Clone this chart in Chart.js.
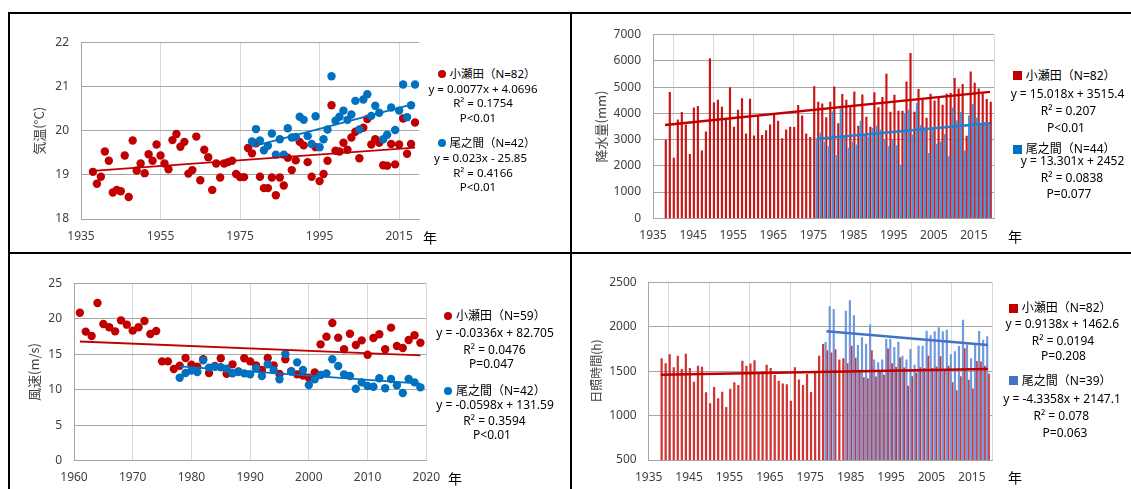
<!DOCTYPE html>
<html>
<head>
<meta charset="utf-8">
<script src="https://cdn.jsdelivr.net/npm/chart.js@4.4.1/dist/chart.umd.min.js"></script>
<style>
  body { margin: 0; background: #fff; }
  #page { position: relative; width: 1131px; height: 489px; overflow: hidden; background: #fff;
          font-family: "Noto Sans", "Noto Sans CJK JP", sans-serif; }
  canvas { position: absolute; }
  .rule { position: absolute; background: #000; z-index: 5; }
  .lg { position: absolute; white-space: nowrap; color: #000; line-height: 14px; font-size: 12px; z-index: 4; }
  .c { width: 180px; text-align: center; }
  .hd { display: flex; align-items: center; }
  .mk { display: inline-block; width: 8px; height: 8px; margin-right: 4px; }
  .dot { border-radius: 50%; }
  .sq { width: 9px; height: 9px; }
  .unit { position: absolute; font-family: "Noto Sans CJK JP"; font-size: 14px; line-height: 16px; color: #000; z-index: 4; }
</style>
</head>
<body>
<div id="page">
  <!-- panel frames -->
  <div class="rule" style="left:7.5px;top:12px;width:2px;height:477px"></div>
  <div class="rule" style="left:7.5px;top:12px;width:1124px;height:2px"></div>
  <div class="rule" style="left:570px;top:12px;width:2px;height:477px"></div>
  <div class="rule" style="left:7.5px;top:252px;width:1124px;height:2px"></div>

  <canvas id="tempChart" width="430" height="236" style="left:0;top:14px"></canvas>
  <canvas id="precipChart" width="430" height="236" style="left:572px;top:14px"></canvas>
  <canvas id="windChart" width="450" height="235" style="left:0;top:254px"></canvas>
  <canvas id="sunChart" width="430" height="235" style="left:572px;top:254px"></canvas>

  <!-- temperature legend -->
  <div class="lg hd" style="left:437.5px;top:67px;font-size:11.5px"><span class="mk dot" style="background:#c00000"></span>小瀬田（N=82）</div>
  <div class="lg c" style="left:393px;top:82px;font-size:11.5px">y = 0.0077x + 4.0696</div>
  <div class="lg c" style="left:393px;top:96px;font-size:11.5px">R² = 0.1754</div>
  <div class="lg c" style="left:388px;top:111px;font-size:11.5px">P&lt;0.01</div>
  <div class="lg hd" style="left:437.5px;top:136px;font-size:11.5px"><span class="mk dot" style="background:#0070c0"></span>尾之間（N=42）</div>
  <div class="lg c" style="left:390.5px;top:151px;font-size:11.5px">y = 0.023x - 25.85</div>
  <div class="lg c" style="left:393px;top:165.5px;font-size:11.5px">R² = 0.4166</div>
  <div class="lg c" style="left:388px;top:180px;font-size:11.5px">P&lt;0.01</div>
  <div class="unit" style="left:423px;top:229px">年</div>

  <!-- precipitation legend -->
  <div class="lg hd" style="left:1012.8px;top:68.7px"><span class="mk sq" style="background:#c00000"></span>小瀬田（N=82）</div>
  <div class="lg c" style="left:977.5px;top:87.3px">y = 15.018x + 3515.4</div>
  <div class="lg c" style="left:978.5px;top:104px">R² = 0.207</div>
  <div class="lg c" style="left:976px;top:120.7px">P&lt;0.01</div>
  <div class="lg hd" style="left:1012.8px;top:142px"><span class="mk sq" style="background:#0070c0"></span>尾之間（N=44）</div>
  <div class="lg c" style="left:982.5px;top:154px">y = 13.301x + 2452</div>
  <div class="lg c" style="left:982px;top:171.3px">R² = 0.0838</div>
  <div class="lg c" style="left:979px;top:187.3px">P=0.077</div>
  <div class="unit" style="left:1008px;top:228px">年</div>

  <!-- wind legend -->
  <div class="lg hd" style="left:444px;top:308.7px"><span class="mk dot" style="background:#c00000"></span>小瀬田（N=59）</div>
  <div class="lg c" style="left:405px;top:326.3px">y = -0.0336x + 82.705</div>
  <div class="lg c" style="left:404.5px;top:343px">R² = 0.0476</div>
  <div class="lg c" style="left:401.5px;top:357px">P=0.047</div>
  <div class="lg hd" style="left:444px;top:383.7px"><span class="mk dot" style="background:#0070c0"></span>尾之間（N=42）</div>
  <div class="lg c" style="left:405px;top:398px">y = -0.0598x + 131.59</div>
  <div class="lg c" style="left:404.5px;top:414px">R² = 0.3594</div>
  <div class="lg c" style="left:402px;top:428px">P&lt;0.01</div>
  <div class="unit" style="left:448px;top:470px">年</div>

  <!-- sunshine legend -->
  <div class="lg hd" style="left:1008.8px;top:301.3px"><span class="mk sq" style="background:#c00000"></span>小瀬田（N=82）</div>
  <div class="lg c" style="left:972.3px;top:317.3px">y = 0.9138x + 1462.6</div>
  <div class="lg c" style="left:973px;top:333.7px">R² = 0.0194</div>
  <div class="lg c" style="left:973.5px;top:348.7px">P=0.208</div>
  <div class="lg hd" style="left:1008.8px;top:373.7px"><span class="mk sq" style="background:#4472c4"></span>尾之間（N=39）</div>
  <div class="lg c" style="left:972px;top:392.3px">y = -4.3358x + 2147.1</div>
  <div class="lg c" style="left:971.3px;top:409px">R² = 0.078</div>
  <div class="lg c" style="left:975px;top:426.3px">P=0.063</div>
  <div class="unit" style="left:1008px;top:469px">年</div>
</div>

<script>
const range = (a, b) => Array.from({ length: b - a + 1 }, (_, i) => a + i);

// ---- 気温 (annual mean temperature, °C)
const tempYearsKoseda = range(1938, 2019);
const tempKoseda = [
  19.07, 18.80,
  18.96, 19.53, 19.32, 18.60, 18.66, 18.63, 19.44, 18.50, 19.78, 19.10,
  19.26, 19.04, 19.47, 19.32, 19.69, 19.44, 19.26, 19.13, 19.79, 19.93,
  19.64, 19.75, 19.03, 19.11, 19.87, 18.88, 19.57, 19.40, 18.66, 19.26,
  18.94, 19.26, 19.29, 19.32, 19.02, 18.95, 18.95, 19.61, 19.49, 19.72,
  18.96, 18.70, 18.70, 18.94, 18.54, 18.94, 18.76, 19.39, 19.11, 19.33,
  19.75, 19.67, 19.29, 18.96, 19.63, 18.86, 19.02, 19.32, 20.58, 19.55,
  19.53, 19.73, 19.57, 19.85, 19.98, 19.38, 20.07, 20.27, 19.69, 19.81,
  19.73, 19.22, 19.21, 19.70, 19.24, 19.69, 20.28, 19.48, 19.70, 20.19
];
const tempYearsOnoaida = range(1978, 2019);
const tempOnoaida = [
  19.76, 20.04,
  19.78, 19.56, 19.66, 19.94, 19.46, 19.81, 19.46, 20.06, 19.85, 19.86,
  20.32, 20.25, 19.88, 19.70, 20.33, 19.63, 19.81, 20.03, 21.24, 20.23,
  20.32, 20.46, 20.25, 20.37, 20.68, 20.03, 20.71, 20.83, 20.34, 20.57,
  20.41, 19.81, 19.91, 20.53, 20.02, 20.46, 21.05, 20.31, 20.58, 21.05
];
const tempTrendKoseda = [[1938, 19.09], [2019, 19.62]];
const tempTrendOnoaida = [[1978, 19.64], [2019, 20.62]];
const tempXTicks = [1935, 1955, 1975, 1995, 2015];

// ---- 降水量 (annual precipitation, mm)
const precipYearsKoseda = range(1938, 2019);
const precipKoseda = [
  2980, 4800,
  2300, 3750, 4040, 3560, 2440, 4210, 4270, 2570, 3300, 6090,
  4400, 4510, 4240, 3750, 4980, 3480, 4130, 4560, 3220, 4550,
  3140, 3930, 3160, 3340, 3560, 4000, 3710, 3040, 3370, 3480,
  3470, 4310, 3910, 3220, 3090, 5020, 4430, 4360, 3840, 4430,
  5010, 3610, 4730, 4510, 4220, 4820, 3520, 4710, 3860, 3480,
  4790, 4220, 4610, 5500, 4050, 4700, 4090, 4090, 5200, 6290,
  4050, 4920, 4510, 3820, 4740, 4480, 4650, 4320, 4740, 4760,
  5340, 4940, 5110, 3130, 5580, 5160, 4940, 4750, 4540, 4430
];
const precipYearsOnoaida = range(1976, 2019);
const precipOnoaida = [
  3050, 3260, 2920, 2730,
  4070, 2400, 4170, 3110, 2690, 2920, 2800, 3710, 3180, 3110,
  3430, 3530, 3370, 3010, 2730, 2990, 2770, 2030, 4000, 4140,
  3180, 4380, 3540, 3460, 2480, 3470, 2830, 2920, 3200, 2350,
  4210, 3720, 4040, 2570, 3910, 4350, 3830, 3610, 3650, 3550
];
const precipTrendKoseda = [[1938, 3560], [2019, 4820]];
const precipTrendOnoaida = [[1976, 3030], [2019, 3620]];
const precipXTicks = [1935, 1945, 1955, 1965, 1975, 1985, 1995, 2005, 2015];

// ---- 風速 (annual max wind speed, m/s)
const windYearsKoseda = range(1961, 2019);
const windKoseda = [
  20.86, 18.19, 17.58, 22.23, 19.27, 18.80, 18.23, 19.78, 19.17,
  18.33, 18.80, 19.69, 17.86, 18.28, 14.00, 14.00, 12.92, 13.39, 14.47,
  13.53, 13.25, 14.29, 12.36, 13.35, 14.43, 12.26, 13.58, 12.59, 14.43,
  14.00, 13.44, 12.78, 14.47, 13.44, 12.22, 14.29, 12.60, 12.17, 12.00,
  11.70, 12.45, 16.40, 17.48, 19.41, 17.34, 15.70, 17.90, 16.31, 16.96,
  14.94, 17.29, 17.81, 15.70, 18.75, 16.17, 15.88, 17.01, 17.67, 16.62
];
const windYearsOnoaida = range(1978, 2019);
const windOnoaida = [
  11.70, 12.36,
  12.69, 12.50, 14.14, 13.11, 13.25, 13.16, 12.97, 12.31, 12.50, 12.31,
  12.17, 13.02, 11.94, 13.58, 12.78, 11.47, 15.04, 12.55, 13.86, 12.78,
  10.67, 11.47, 12.08, 12.31, 14.29, 13.35, 12.17, 11.94, 10.15, 11.04,
  10.53, 10.43, 11.61, 10.20, 11.51, 10.62, 9.54, 11.51, 11.04, 10.34
];
const windTrendKoseda = [[1961, 16.80], [2019, 14.85]];
const windTrendOnoaida = [[1978, 13.30], [2019, 10.85]];
const windXTicks = [1960, 1970, 1980, 1990, 2000, 2010, 2020];

// ---- 日照時間 (annual sunshine, h)
const sunYearsKoseda = range(1938, 2019);
const sunKoseda = [
  1641, 1584,
  1686, 1539, 1671, 1521, 1693, 1532, 1378, 1558, 1547, 1258,
  1134, 1318, 1190, 1265, 1093, 1299, 1371, 1341, 1614, 1558,
  1581, 1618, 1472, 1494, 1569, 1532, 1453, 1389, 1356, 1348,
  1164, 1539, 1401, 1341, 1464, 1262, 1480, 1671, 1802, 1731,
  1705, 1742, 1626, 1641, 1584, 1783, 1648, 1513, 1427, 1416,
  1731, 1435, 1487, 1457, 1750, 1585, 1543, 1650, 1538, 1333,
  1438, 1479, 1539, 1532, 1670, 1532, 1550, 1663, 1520, 1558,
  1370, 1280, 1438, 1753, 1400, 1300, 1611, 1606, 1558, 1468
];
const sunYearsOnoaida = range(1979, 2019);
const sunOnoaida = [
  1825,
  2226, 2196, null, null, 2177, 2294, 2125, 1791, 1877, 1806,
  2020, 1626, 1596, 1626, 1858, 1858, 1768, 1828, 1671, 1626,
  1746, 1569, 1783, 1783, 1952, 1900, 1945, 1990, 1945, 1963,
  1686, 1720, 1780, 2076, 1795, 1641, 1810, 1949, 1851, 1888
];
const sunTrendKoseda = [[1938, 1460], [2019, 1525]];
const sunTrendOnoaida = [[1979, 1950], [2019, 1793]];
const sunXTicks = precipXTicks;

const RED = '#c00000';
const BLUE = '#0070c0';
const gridMajor = '#a6a6a6';
const gridMinor = '#d9d9d9';
const tickFont = { family: 'Noto Sans', size: 12 };

const pts = (years, vals) => years.map((yr, i) => ({ x: yr, y: vals[i] }));
const line = pairs => pairs.map(p => ({ x: p[0], y: p[1] }));

// shared axis / layout options, sizes tuned so the plot areas line up with the picture
function buildOptions(p) {
  return {
    responsive: false,
    animation: false,
    events: [],
    layout: { padding: { left: p.padLeft, top: p.padTop, right: p.padRight, bottom: 0 } },
    plugins: { legend: { display: false }, tooltip: { enabled: false } },
    scales: {
      x: {
        type: 'linear',
        offset: false,
        min: p.xMin,
        max: p.xMax,
        afterBuildTicks: s => { s.ticks = p.xTicks.map(v => ({ value: v })); },
        afterFit: s => { s.height = p.xAxisHeight; },
        ticks: { font: tickFont, color: '#404040', padding: 10, maxRotation: 0, autoSkip: false, callback: v => String(v) },
        grid: { color: gridMinor, drawTicks: false },
        border: { color: gridMajor }
      },
      y: {
        min: p.yMin,
        max: p.yMax,
        afterFit: s => { s.width = p.yAxisWidth; },
        ticks: { stepSize: p.yStep, font: tickFont, color: '#404040', padding: 12, callback: v => String(v) },
        grid: { color: gridMajor, drawTicks: false },
        border: { color: gridMajor },
        title: {
          display: true,
          text: p.yTitle,
          color: '#404040',
          font: { family: 'Noto Sans CJK JP', size: p.titleSize || 13 },
          padding: { top: 4, bottom: 4 }
        }
      }
    }
  };
}

function scatterSet(data, color, order) {
  return { data, backgroundColor: color, pointRadius: 4.2, pointBorderWidth: 0, order };
}
function trendSet(data, color, width, order) {
  return { type: 'line', data, borderColor: color, borderWidth: width, pointRadius: 0, fill: false, order };
}
// thin columns, paired side by side for each year
function barSet(data, color, thickness, order) {
  return { type: 'bar', data, backgroundColor: color, borderWidth: 0, barThickness: thickness, order };
}

new Chart(document.getElementById('tempChart'), {
  type: 'scatter',
  data: {
    datasets: [
      trendSet(line(tempTrendOnoaida), BLUE, 1.8, 0),
      trendSet(line(tempTrendKoseda), RED, 1.8, 1),
      scatterSet(pts(tempYearsOnoaida, tempOnoaida), BLUE, 2),
      scatterSet(pts(tempYearsKoseda, tempKoseda), RED, 3)
    ]
  },
  options: buildOptions({
    padLeft: 27.6, yAxisWidth: 53.4, padTop: 28.7, padRight: 11, xAxisHeight: 31,
    xMin: 1935, xMax: 2020, xTicks: tempXTicks,
    yMin: 18, yMax: 22, yStep: 1, yTitle: '気温(°C)'
  })
});

new Chart(document.getElementById('precipChart'), {
  type: 'bar',
  data: {
    datasets: [
      trendSet(line(precipTrendOnoaida), '#1f7fd0', 2.5, 0),
      trendSet(line(precipTrendKoseda), RED, 2.5, 1),
      barSet(pts(precipYearsKoseda, precipKoseda), '#cc1414', 1.5, 3),
      barSet(pts(precipYearsOnoaida, precipOnoaida), '#4a93d8', 1.6, 2)
    ]
  },
  options: buildOptions({
    padLeft: 17.6, yAxisWidth: 63.4, padTop: 20.7, padRight: 8, xAxisHeight: 31.7,
    xMin: 1935, xMax: 2020, xTicks: precipXTicks,
    yMin: 0, yMax: 7000, yStep: 1000, yTitle: '降水量(mm)'
  })
});

new Chart(document.getElementById('windChart'), {
  type: 'scatter',
  data: {
    datasets: [
      trendSet(line(windTrendOnoaida), BLUE, 1.8, 0),
      trendSet(line(windTrendKoseda), RED, 1.8, 1),
      scatterSet(pts(windYearsOnoaida, windOnoaida), BLUE, 2),
      scatterSet(pts(windYearsKoseda, windKoseda), RED, 3)
    ]
  },
  options: buildOptions({
    padLeft: 22.6, yAxisWidth: 51.4, padTop: 29.3, padRight: 19.6, xAxisHeight: 28.3,
    xMin: 1960, xMax: 2020, xTicks: windXTicks,
    yMin: 0, yMax: 25, yStep: 5, yTitle: '風速(m/s)'
  })
});

new Chart(document.getElementById('sunChart'), {
  type: 'bar',
  data: {
    datasets: [
      trendSet(line(sunTrendOnoaida), '#4472c4', 2.5, 0),
      trendSet(line(sunTrendKoseda), RED, 2.5, 1),
      barSet(pts(sunYearsKoseda, sunKoseda), '#d03434', 1.6, 3),
      barSet(pts(sunYearsOnoaida, sunOnoaida), '#7099de', 1.5, 2)
    ]
  },
  options: buildOptions({
    padLeft: 13.6, yAxisWidth: 63.1, padTop: 28.3, padRight: 10, xAxisHeight: 29,
    xMin: 1935, xMax: 2020, xTicks: sunXTicks,
    yMin: 500, yMax: 2500, yStep: 500, yTitle: '日照時間(h)', titleSize: 12
  })
});
</script>
</body>
</html>
